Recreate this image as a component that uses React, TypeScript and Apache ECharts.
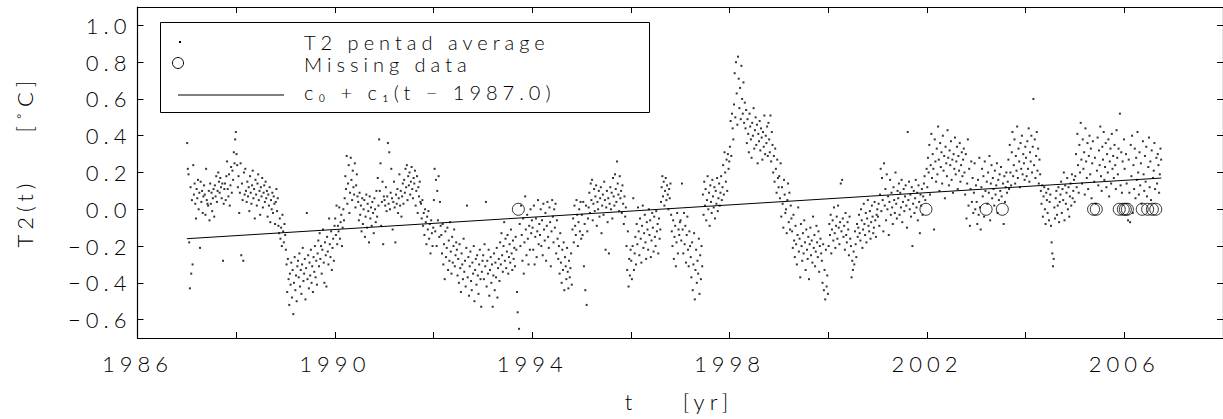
import React, { useEffect, useRef } from "react";
import * as echarts from "echarts";

// Pentad (5-day) averages of T2, in hundredths of a degree C; null = missing pentad.
const y1987 = [36, 22, 19, -18, -43, 12, -35, 5, -30, 24, 8, 14, 3, -5, 11, 6, 16, 0, 9, -21, 15, 4, 10, -2, 7, 13, 8, -3, 22, 5, 3, 2, 10, -6, 14, 3, 9, -1, 6, 11, -4, 13, 7, 18, 4, 10, 20, 15, 9, 17, 12, 6, 14, -28, 3, 11, 14, 5, 18, 26, 11, 7, 19, 2, 13, 23, 9, 21, 16, 31, 25, 38, 42];
const y1988 = [30, 24, 12, 18, -2, 9, 25, -25, 14, 5, -28, 20, 8, 22, 10, 4, 15, 7, 12, -1, 18, 9, 3, 13, 21, 6, 11, -5, 16, 8, 2, 14, 19, 5, 10, -3, 12, 7, 17, 1, 9, 13, 4, 15, 6, 10, -4, 8, 2, 12, -7, 5, 0, 9, -2, 7, 3, -8, 4, 11, -1, 6, -9, -13, -5, -16, -10, -20, -3, -12, -18, -8, -14];
const y1989 = [-22, -30, -45, -27, -38, -52, -35, -41, -29, -48, -33, -57, -40, -26, -44, -36, -50, -31, -28, -37, -24, -42, -33, -46, -30, -21, -39, -35, -27, -49, -32, -2, -38, -25, -43, -29, -36, -22, -40, -31, -45, -26, -34, -20, -37, -28, -41, -24, -17, -31, -13, -27, -20, -35, -22, -11, -29, -40, -18, -25, -42, -15, -23, -30, -5, -19, -26, -12, -33, -21, -16, -28, -9];
const y1990 = [-5, -14, 2, -19, -9, -12, 1, -16, -7, -3, -20, -10, 0, -6, 6, 18, 11, 29, 3, 14, 24, -2, 9, 28, 16, 5, 21, 12, 8, 25, 1, 13, 19, 7, 4, -6, 9, -3, 2, -12, 6, -8, 0, 5, -15, -4, 8, -10, 3, -1, -18, 7, -5, 1, -9, 4, -2, -13, 6, 0, -7, 10, -4, 17, 2, 38, 10, 25, -9, 4, 15, -19, 7];
const y1991 = [5, 2, 12, -1, 7, 36, 3, 31, 0, 9, 22, 6, -11, 4, 15, 1, -18, 8, 3, 11, -2, 6, 19, 2, 10, -4, 7, 14, 3, 16, 9, 22, 12, 24, 5, 18, 13, 20, 8, 15, 23, 11, 6, 17, 14, 21, 2, 10, 18, -2, 12, 7, 15, 4, 3, -5, 5, -9, -2, -14, 0, -7, -19, -4, -11, -1, -16, -8, -24, -6, -13, -20, -10];
const y1992 = [5, 22, -12, 16, -20, 10, -6, 18, -15, 4, -9, -14, -24, -8, -30, -19, -38, -12, -26, -21, -10, -33, -17, -28, -7, -23, -35, -15, -29, -20, -11, -31, -25, -18, -22, -36, -27, -40, -19, -32, -45, -24, -30, -38, -16, -34, -28, -42, -21, 2, -37, -26, -47, -31, -23, -39, -44, -29, -35, -20, -50, -33, -27, -41, -25, -36, -46, -30, -22, -38, -53, -34, -28];
const y1993 = [-25, -38, -19, -31, 4, -42, -28, -35, -22, -47, -33, -26, -40, -30, -53, -36, -24, -44, -29, -37, -21, -48, -32, -27, -39, -18, -30, -13, -25, -34, -20, -7, -28, -16, -32, -23, -14, -35, -26, -19, -29, -11, -24, -33, -17, -27, -21, -31, -15, -22, -45, -56, null, -65, -8, -20, 2, -14, -28, -5, -35, -18, 7, -11, -25, -3, -16, -30, -9, -22, 0, -13, -6];
const y1994 = [-10, -22, 2, -30, -15, -5, -26, -12, 5, -19, -8, -14, 0, -20, -6, -25, 3, -11, -17, -2, -28, -9, 4, -15, -21, 1, -7, -31, -12, 5, -4, -18, 0, -10, 3, -24, -6, -16, -27, -20, -35, -13, -29, -40, -22, -33, -18, -44, -26, -31, -38, -21, -34, -43, -28, -37, -32, -24, -41, -11, -5, -18, 2, -9, -14, 5, -3, -20, -7, 0, -12, 4, -16];
const y1995 = [-3, -14, 4, -31, -8, -44, 2, -52, -12, -5, 1, 9, -2, 14, 5, 16, -6, 3, 11, -1, 7, 13, -9, 4, 0, 10, -4, 6, 12, -13, 2, 8, -3, 15, 5, -22, 1, 10, -7, 6, -24, 3, 12, 0, 9, -5, 17, 7, 2, 19, 11, 4, 26, 14, 8, -1, 18, 6, 10, -2, 13, 3, -8, 7, -4, 1, -20, -33, -12, -42, -27, -36, -22];
const y1996 = [-28, -38, -20, 6, -33, -24, -15, -30, -8, -19, 1, -12, -25, -5, -16, -29, -9, 2, -21, -13, -3, -18, -27, -7, -11, -22, 0, -14, -6, -26, -17, -2, -10, -23, -4, -15, -20, -1, -12, -8, -24, -5, -16, -11, 4, 12, 18, 7, 15, 2, 10, 17, 5, 13, 8, 0, 11, 6, 14, -3, -12, -20, -6, -27, -15, -9, -31, -18, -2, -24, -11, -14, -7];
const y1997 = [-6, -17, 14, -11, -24, -2, -19, -9, -29, -14, -4, -22, -31, -12, -20, -26, -37, -18, -44, -30, -13, -49, -33, -22, -40, -28, -35, -16, -46, -25, -38, -20, -31, 8, -3, 15, 2, 11, -6, 5, 18, 0, 9, -9, 13, 4, -2, 16, 7, 1, 12, -5, 10, 3, 17, -1, 6, 14, 2, 9, 18, 5, 12, 24, 8, 31, 20, 15, 27, 10, 30, 22, 26];
const y1998 = [34, 48, 29, 52, 44, 38, 57, 74, 50, 80, 63, 46, 83, 71, 55, 66, 49, 78, 60, 52, 69, 47, 58, 44, 54, 36, 49, 41, 31, 52, 45, 38, 28, 47, 40, 55, 33, 43, 50, 35, 46, 25, 41, 37, 48, 32, 44, 39, 27, 42, 34, 51, 30, 40, 36, 45, 29, 47, 38, 31, 51, 26, 42, 35, 20, 29, 15, 33, 22, 9, 27, 17, 12];
const y1999 = [18, 6, 25, -4, 12, 3, -10, 16, 8, -2, 0, -13, 5, 14, -7, 9, -11, 2, -5, -12, -21, -3, -17, -26, -9, -19, -30, -14, 1, -23, -16, -37, -8, -20, -28, -13, -24, -6, -18, -33, -11, -22, -27, -15, -38, -19, -10, -25, -17, -29, -4, -21, -14, -31, -23, -9, -18, -26, -12, -34, -20, -16, -24, -28, -40, -19, -44, -33, -49, -22, -42, -36, -46];
const y2000 = [-20, -8, -14, -3, -24, -11, -6, -17, 1, -13, -21, -9, -4, -16, 2, -10, -19, -7, 14, -12, 16, -5, -15, -9, -22, -2, -14, -18, -7, -11, -25, -4, -16, -20, -37, -28, -33, -23, -30, -12, -19, -26, -8, -15, -10, -3, -13, -17, 0, -6, -21, -11, 3, -8, -14, -2, -18, -5, 5, -9, -12, -1, -16, -7, 2, -4, -13, -10, 4, -6, -15, -3, 0];
const y2001 = [-4, 3, -9, 8, 22, -1, 17, 5, -12, 25, 2, 11, -6, 19, 0, 7, -14, 4, 16, -3, 9, 1, -8, 12, 5, -2, 20, 3, -5, 10, 6, 14, -3, 9, 1, 16, -7, 4, 11, -1, 7, 13, 2, -10, 42, 5, 15, 0, 8, -4, 12, -20, 3, 10, -2, 6, 16, 1, 9, -6, 13, 4, -13, 8, 2, 11, -3, 7, 14, 18, 5, null, 22];
const y2002 = [12, 28, 20, 35, 8, 24, 41, 17, 30, 22, -11, 38, 26, 15, 33, 19, 45, 27, 10, 36, 23, 31, 14, 40, 21, 29, 6, 34, 25, 18, 43, 28, 13, 32, 24, 37, 16, 27, 9, 30, 22, 39, 19, 26, 34, 11, 29, 21, 36, 15, 24, 31, 18, 27, 33, 20, 8, 30, -5, 14, 38, 2, 22, -9, 11, 26, 4, 17, -2, 9, 25, 0, 13];
const y2003 = [4, -8, 16, -3, 28, 1, -11, 12, 22, 7, 18, -4, 26, 10, null, 15, 3, 20, 9, 29, -6, 14, 24, 6, 17, 11, 2, 21, 8, 13, 25, -2, 16, 5, 19, 10, 23, 7, null, 14, -8, 18, 4, 12, 20, 9, 15, 27, 11, 35, 20, 13, 31, 42, 18, 24, 38, 14, 29, 21, 45, 17, 33, 26, 12, 36, 22, 40, 19, 30, 25, 16, 34];
const y2004 = [28, 18, 37, 22, 44, 15, 31, 26, 40, 20, 34, 60, 24, 38, 17, 29, 42, 21, 33, 14, 27, 19, 10, 3, 13, -4, 7, 12, 0, -8, 9, 5, -2, 11, -6, 4, 8, -9, -18, -24, -31, -27, 1, -5, 6, 10, -3, 2, 12, -7, 4, 8, 15, -2, 11, 5, 20, -6, 13, 3, 9, 17, 0, 12, -4, 7, 14, 2, 19, 6, 10, 16, 4];
const y2005 = [18, 30, 12, 41, 24, 9, 35, 20, 47, 27, 14, 38, 22, 31, 8, 44, 26, 17, 36, 11, 29, 40, 19, 33, 6, 25, 37, null, 15, 28, 3, null, 21, 39, 13, 32, 24, 45, 18, 10, 34, 27, 42, 16, 23, 36, 12, 30, 20, 38, 7, 26, 33, 14, 41, 22, 29, 17, 35, 24, 11, 43, 28, 19, 33, null, 52, 13, 31, 9, 26, null, 38];
const y2006 = [22, null, 30, 14, null, -6, 27, 9, -7, 35, 18, 40, -2, 24, 11, 33, 6, 28, 16, 42, 20, 8, 31, 13, 25, 3, null, 37, 19, 10, 29, 15, 34, 7, null, 23, 39, 12, 26, 5, 32, null, 17, 21, 36, 11, null, 28, 14, 30, 24, 9, 19, 33, 27];

const years = [1987, 1988, 1989, 1990, 1991, 1992, 1993, 1994, 1995, 1996, 1997, 1998, 1999, 2000, 2001, 2002, 2003, 2004, 2005, 2006];
const yearValues = [y1987, y1988, y1989, y1990, y1991, y1992, y1993, y1994, y1995, y1996, y1997, y1998, y1999, y2000, y2001, y2002, y2003, y2004, y2005, y2006];
const pentadsPerYear = 73;

// Linear fit c0 + c1 (t - 1987.0)
const c0 = -0.16;
const c1 = 0.0167;
const fitStart = 1987.0;
const fitEnd = 2006.75;

const xLabelYears = [1986, 1990, 1994, 1998, 2002, 2006];
const yTickValues = [-0.6, -0.4, -0.2, 0.0, 0.2, 0.4, 0.6, 0.8, 1.0];

const FONT = "Lato, 'DejaVu Sans', sans-serif";

export default function App() {
  const ref = useRef<HTMLDivElement>(null);

  useEffect(() => {
    if (!ref.current) return;
    const chart = echarts.init(ref.current, null, { renderer: "svg" });

    const points: number[][] = [];
    const missing: number[][] = [];
    years.forEach((yr, k) => {
      yearValues[k].forEach((v, i) => {
        const t = yr + (i + 0.5) / pentadsPerYear;
        if (v === null) missing.push([t, 0]);
        else points.push([t, (v as number) / 100]);
      });
    });
    const trend = [
      [fitStart, c0],
      [fitEnd, c0 + c1 * (fitEnd - fitStart)],
    ];

    const labelStyle = { color: "#000", fontFamily: FONT, fontSize: 22, fontWeight: 300 };
    const lineStyle = { color: "#000", width: 1.2 };
    const fmtY = (v: number) => (v < -1e-9 ? "\u2212" : "") + Math.abs(v).toFixed(1);
    const legendFont = `300 20px ${FONT}`;

    const option: any = {
      animation: false,
      grid: { left: 137.5, top: 7, width: 1091, height: 331, containLabel: false },
      xAxis: [
        {
          type: "value", min: 1986, max: 2008, interval: 2, position: "bottom",
          axisLine: { show: true, onZero: false, lineStyle },
          axisTick: { show: true, inside: true, length: 6, lineStyle: { color: "#000", width: 1 } },
          axisLabel: { ...labelStyle, customValues: xLabelYears, margin: 14, formatter: (v: number) => String(v) },
          splitLine: { show: false },
        },
        {
          type: "value", min: 1986, max: 2008, interval: 2, position: "top",
          axisLine: { show: true, onZero: false, lineStyle },
          axisTick: { show: true, inside: true, length: 6, lineStyle: { color: "#000", width: 1 } },
          axisLabel: { show: false },
          splitLine: { show: false },
        },
      ],
      yAxis: [
        {
          type: "value", min: -0.7, max: 1.1, position: "left",
          axisLine: { show: true, onZero: false, lineStyle },
          axisTick: { show: true, inside: true, length: 6, customValues: yTickValues, lineStyle: { color: "#000", width: 1 } },
          axisLabel: { ...labelStyle, customValues: yTickValues, margin: 6, formatter: fmtY },
          splitLine: { show: false },
        },
        {
          type: "value", min: -0.7, max: 1.1, position: "right",
          axisLine: { show: true, onZero: false, lineStyle },
          axisTick: { show: true, inside: true, length: 6, customValues: yTickValues, lineStyle: { color: "#000", width: 1 } },
          axisLabel: { show: false },
          splitLine: { show: false },
        },
      ],
      series: [
        {
          name: "T2 pentad average", type: "scatter", data: points, symbol: "rect", symbolSize: 2,
          itemStyle: { color: "#000" }, progressive: 0, large: false, silent: true,
        },
        {
          name: "Missing data", type: "scatter", data: missing, symbol: "circle", symbolSize: 12,
          itemStyle: { color: "rgba(0,0,0,0)", borderColor: "#000", borderWidth: 1 }, silent: true,
        },
        {
          name: "fit", type: "line", data: trend, symbol: "none", silent: true,
          lineStyle: { color: "#000", width: 1 },
        },
      ],
      graphic: [
        {
          type: "rect", z: 100, shape: { x: 160.5, y: 22.5, width: 489, height: 90 },
          style: { fill: "#fff", stroke: "#000", lineWidth: 1 },
        },
        { type: "rect", z: 101, shape: { x: 179, y: 41, width: 2, height: 2 }, style: { fill: "#000" } },
        { type: "circle", z: 101, shape: { cx: 178, cy: 63, r: 5.5 }, style: { fill: "none", stroke: "#000", lineWidth: 1 } },
        { type: "line", z: 101, shape: { x1: 178, y1: 95, x2: 284, y2: 95 }, style: { stroke: "#000", lineWidth: 1 } },
        {
          type: "text", z: 101, x: 304, y: 42,
          style: { text: "T2 pentad average", fill: "#000", font: legendFont, lineHeight: 20, align: "left", verticalAlign: "middle" },
        },
        {
          type: "text", z: 101, x: 304, y: 64,
          style: { text: "Missing data", fill: "#000", font: legendFont, lineHeight: 20, align: "left", verticalAlign: "middle" },
        },
        {
          type: "text", z: 101, x: 304, y: 92,
          style: { text: "c\u2080 + c\u2081(t \u2212 1987.0)", fill: "#000", font: legendFont, lineHeight: 20, align: "left", verticalAlign: "middle" },
        },
        {
          type: "text", x: 24, y: 213, rotation: Math.PI / 2,
          style: { text: "T2(t)", fill: "#000", font: `300 22px ${FONT}`, align: "center", verticalAlign: "middle" },
        },
        {
          type: "text", x: 24, y: 104, rotation: Math.PI / 2,
          style: { text: "[\u02DAC]", fill: "#000", font: `300 22px ${FONT}`, align: "center", verticalAlign: "middle" },
        },
        {
          type: "text", x: 631, y: 401,
          style: { text: "t", fill: "#000", font: `300 22px ${FONT}`, align: "center", verticalAlign: "middle" },
        },
        {
          type: "text", x: 708, y: 401,
          style: { text: "[yr]", fill: "#000", font: `300 22px ${FONT}`, align: "center", verticalAlign: "middle" },
        },
      ],
    };

    chart.setOption(option);
    return () => chart.dispose();
  }, []);

  return (
    <>
      <style>{".t2chart text{letter-spacing:5px;}"}</style>
      <div
        ref={ref}
        className="t2chart"
        style={{ position: "absolute", left: 0, top: 0, width: 1223, height: 419, background: "#fff" }}
      />
    </>
  );
}
